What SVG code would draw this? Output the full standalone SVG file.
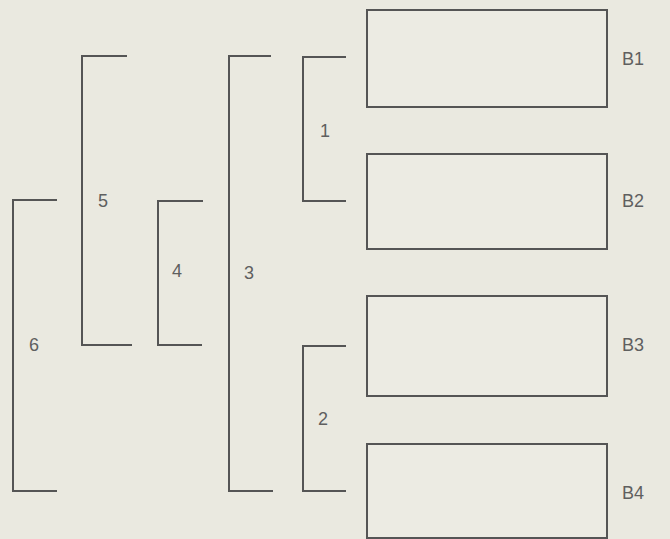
<svg xmlns="http://www.w3.org/2000/svg" width="670" height="539" viewBox="0 0 670 539">
<style>
.ln{fill:none;stroke:#555;stroke-width:2;stroke-linecap:square}
.bx{fill:#ecebe3;stroke:#555;stroke-width:2}
.lb{font-family:"Liberation Sans",Arial,sans-serif;font-size:18px;fill:#5f5f5f}
</style>
<rect width="670" height="539" fill="#eae9e0"/>
<g id="connectors">
<path id="br1" class="ln" d="M345,57 H303 V201 H345"/>
<path id="br2" class="ln" d="M345,346 H303 V491 H345"/>
<path id="br3" class="ln" d="M270,56 H229 V491 H272"/>
<path id="br4" class="ln" d="M202,201 H158 V345 H201"/>
<path id="br5" class="ln" d="M126,56 H82 V345 H131"/>
<path id="br6" class="ln" d="M56,200 H13 V491 H56"/>
<path class="ln" d="M160,201 H202" stroke="#a56565"/>
<path class="ln" d="M233,56 H270" stroke="#6a6a95"/>
</g>
<g id="labels">
<text class="lb" x="320" y="137">1</text>
<text class="lb" x="318" y="425">2</text>
<text class="lb" x="244" y="279">3</text>
<text class="lb" x="172" y="277">4</text>
<text class="lb" x="98" y="207">5</text>
<text class="lb" x="29" y="351">6</text>
</g>
<g id="B1"><rect class="bx" x="367" y="10" width="240" height="97"/><text class="lb" x="622" y="65">B1</text></g>
<g id="B2"><rect class="bx" x="367" y="154" width="240" height="95"/><text class="lb" x="622" y="207">B2</text></g>
<g id="B3"><rect class="bx" x="367" y="296" width="240" height="100"/><text class="lb" x="622" y="351">B3</text></g>
<g id="B4"><rect class="bx" x="367" y="444" width="240" height="94"/><text class="lb" x="622" y="499">B4</text></g>
</svg>
